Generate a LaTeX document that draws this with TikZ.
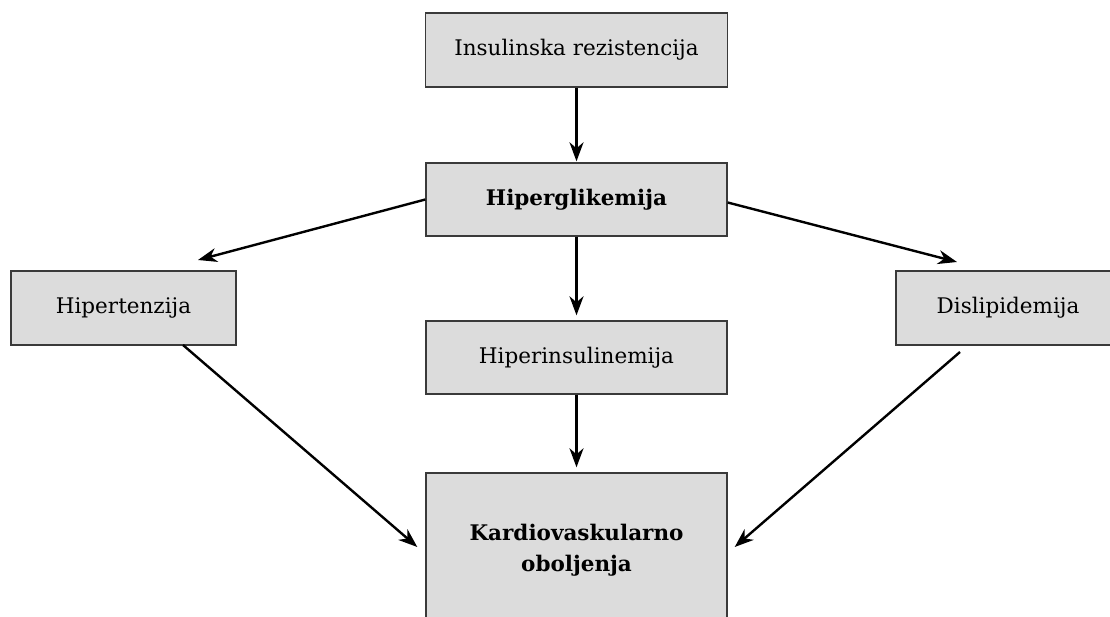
\documentclass[tikz,border=0pt]{standalone}
\usepackage{fontspec}
\setmainfont{DejaVu Serif}
\usetikzlibrary{arrows.meta,calc}
\definecolor{boxfill}{HTML}{DCDCDC}
\definecolor{boxline}{HTML}{3A3A3A}
\begin{document}
\begin{tikzpicture}[x=1pt,y=-1pt,
  box/.style={draw=boxline,line width=1.4pt,fill=boxfill,rectangle,
    inner sep=0pt,align=center,font=\fontsize{21.5}{31}\selectfont},
  link/.style={line width=2.4pt,-{Stealth[length=19pt,width=14pt,inset=6pt]}}]
\useasboundingbox (0,0) rectangle (1110,617);
\clip (0,0) rectangle (1110,617);
% boxes
\node[box,minimum width=302pt,minimum height=74pt] (ir) at (576.5,50) {Insulinska rezistencija};
\node[box,minimum width=301pt,minimum height=73pt] (hg) at (576.5,199.5) {\bfseries Hiperglikemija};
\node[box,minimum width=225pt,minimum height=74pt] (ht) at (123.5,308) {Hipertenzija};
\node[box,minimum width=224pt,minimum height=74pt] (dl) at (1008,308) {Dislipidemija};
\node[box,minimum width=301pt,minimum height=73pt] (hi) at (576.5,357.5) {Hiperinsulinemija};
\node[box,minimum width=301pt,minimum height=154pt] (kv) at (576.5,550) {\bfseries Kardiovaskularno\\\bfseries oboljenja};
% free ends of the slanted connectors
\coordinate (htin) at (198,260);
\coordinate (dlin) at (957,262);
\coordinate (htout) at (183,345);
\coordinate (dlout) at (960,352);
% connectors
\draw[link,shorten >=1pt] (ir.south) -- (hg.north);
\draw[link] (hg.west) -- (htin);
\draw[link] ($(hg.east)+(0,3)$) -- (dlin);
\draw[link,shorten >=5pt] (hg.south) -- (hi.north);
\draw[link,shorten >=5pt] (hi.south) -- (kv.north);
\draw[link] (htout) -- ($(kv.west)+(-8,-3)$);
\draw[link] (dlout) -- ($(kv.east)+(7,-3)$);
\end{tikzpicture}
\end{document}
